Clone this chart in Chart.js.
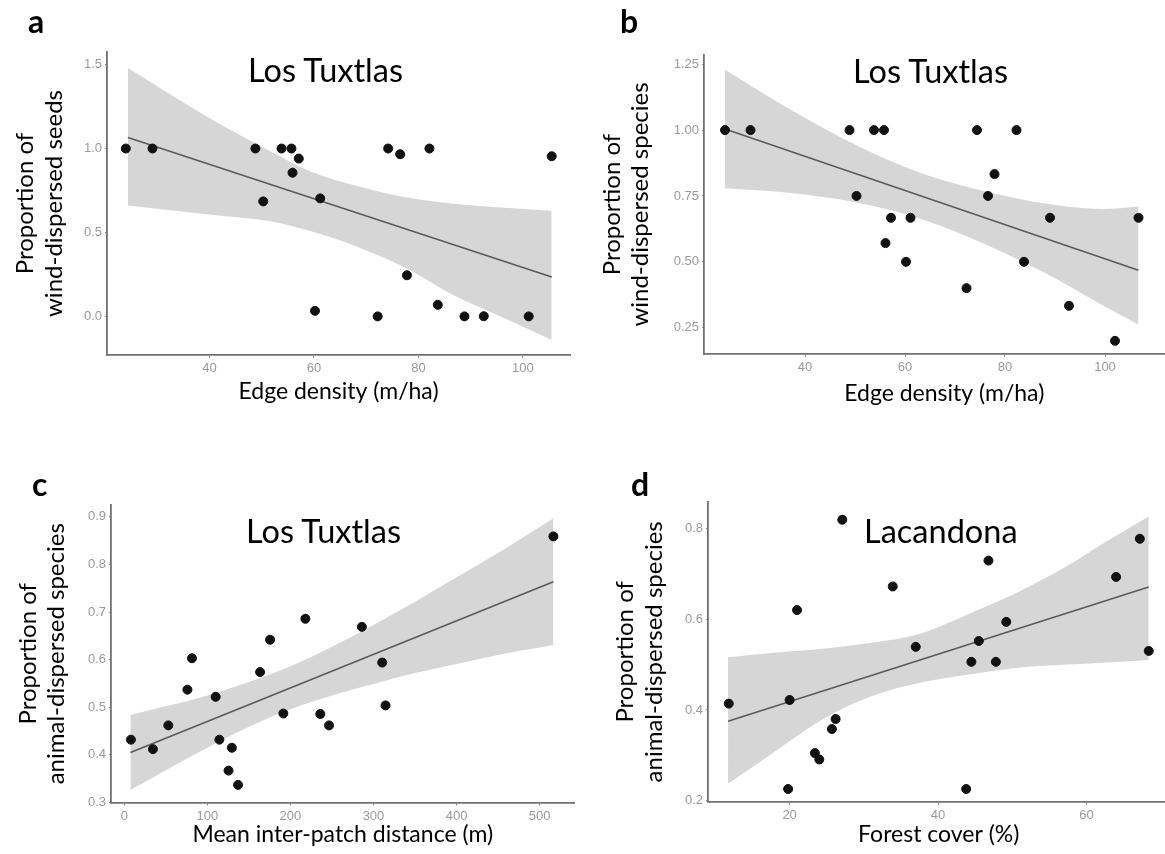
<!DOCTYPE html>
<html lang="en">
<head>
<meta charset="UTF-8" />
<title>Seed dispersal and landscape structure</title>
<script src="https://cdn.jsdelivr.net/npm/chart.js"></script>
<style>
  html, body { margin: 0; padding: 0; background: #fff; }
  body { position: relative; width: 1165px; height: 854px; overflow: hidden; font-family: Lato, "Open Sans", sans-serif; }
  canvas { position: absolute; }
  .letter { position: absolute; font-size: 32px; font-weight: bold; line-height: 1; color: #000; }
  .site { position: absolute; font-size: 32.5px; line-height: 1; color: #000; white-space: nowrap; }
</style>
</head>
<body>
<canvas id="chartA" width="580" height="420" style="left:0;top:0"></canvas>
<canvas id="chartB" width="610" height="420" style="left:580px;top:0"></canvas>
<canvas id="chartC" width="580" height="434" style="left:0;top:420px"></canvas>
<canvas id="chartD" width="595" height="434" style="left:580px;top:420px"></canvas>

<div class="letter" style="left:28px;top:5px">a</div>
<div class="letter" style="left:620px;top:5px">b</div>
<div class="letter" style="left:32px;top:468px">c</div>
<div class="letter" style="left:631px;top:468px">d</div>

<div class="site" style="left:248px;top:54px">Los Tuxtlas</div>
<div class="site" style="left:853px;top:55px">Los Tuxtlas</div>
<div class="site" style="left:246px;top:515px">Los Tuxtlas</div>
<div class="site" style="left:864px;top:515px">Lacandona</div>

<script>
  // a: wind-dispersed seeds vs edge density
  const edgeA = [24.0, 29.1, 48.8, 53.8, 55.7, 57.1, 55.9, 50.3, 61.2, 74.2, 76.5, 82.1, 105.5, 77.8, 60.2, 72.2, 83.7, 88.8, 92.5, 101.1];
  const windSeeds = [1, 1, 1, 1, 1, 0.94, 0.856, 0.685, 0.703, 1, 0.966, 1, 0.954, 0.245, 0.033, 0, 0.069, 0, 0.001, 0];
  const fitA_x = [24.4, 105.5];
  const fitA_y = [1.066, 0.234];
  const bandA_x = [24.4, 39, 51.9, 59.6, 67.9, 77.5, 87.1, 95, 105.5];
  const bandA_hi = [1.48, 1.2, 0.98, 0.86, 0.78, 0.71, 0.67, 0.65, 0.63];
  const bandA_lo = [0.66, 0.61, 0.565, 0.505, 0.42, 0.29, 0.12, 0.01, -0.14];

  // b: wind-dispersed species vs edge density
  const edgeB = [24.0, 29.1, 48.9, 53.8, 55.8, 74.4, 82.3, 77.9, 76.6, 50.3, 57.2, 61.1, 89.0, 106.7, 56.1, 60.2, 83.8, 72.3, 92.8, 102.0];
  const windSpecies = [1, 1, 1, 1, 1, 1, 1, 0.833, 0.75, 0.75, 0.667, 0.667, 0.667, 0.667, 0.571, 0.5, 0.5, 0.4, 0.333, 0.2];
  const fitB_x = [24.0, 106.7];
  const fitB_y = [1.004, 0.468];
  const bandB_x = [24.0, 36.7, 49.8, 59.6, 69.4, 82.5, 89.0, 99.5, 106.7];
  const bandB_hi = [1.229, 1.082, 0.947, 0.863, 0.8, 0.74, 0.718, 0.7, 0.71];
  const bandB_lo = [0.779, 0.762, 0.727, 0.683, 0.62, 0.51, 0.448, 0.335, 0.262];

  // c: animal-dispersed species vs inter-patch distance
  const distC = [8, 34.5, 53, 76, 81.5, 110, 114.5, 129.5, 125.5, 137, 163.5, 175.5, 191.5, 218, 236, 246.5, 286, 310.5, 314.5, 516.6];
  const animalC = [0.432, 0.412, 0.462, 0.537, 0.603, 0.522, 0.432, 0.415, 0.367, 0.337, 0.574, 0.642, 0.487, 0.686, 0.486, 0.462, 0.669, 0.594, 0.504, 0.859];
  const fitC_x = [7.4, 516.6];
  const fitC_y = [0.405, 0.764];
  const bandC_x = [7.4, 50, 100, 150, 200, 250, 300, 350, 400, 450, 516.6];
  const bandC_hi = [0.484, 0.502, 0.525, 0.553, 0.586, 0.627, 0.673, 0.722, 0.773, 0.824, 0.897];
  const bandC_lo = [0.326, 0.368, 0.415, 0.459, 0.496, 0.525, 0.549, 0.572, 0.591, 0.61, 0.631];

  // d: animal-dispersed species vs forest cover (Lacandona)
  const forestD = [11.8, 20.0, 19.8, 21.0, 23.4, 24.0, 25.7, 26.2, 27.1, 33.9, 37.0, 43.8, 44.5, 45.5, 46.8, 47.8, 49.2, 64.0, 67.2, 68.4];
  const animalD = [0.414, 0.422, 0.226, 0.62, 0.305, 0.291, 0.358, 0.38, 0.819, 0.672, 0.539, 0.226, 0.506, 0.552, 0.729, 0.506, 0.594, 0.693, 0.777, 0.53];
  const fitD_x = [11.7, 68.4];
  const fitD_y = [0.375, 0.671];
  const bandD_x = [11.7, 17.8, 24.4, 31.0, 37.6, 44.2, 50.8, 57.4, 62.2, 68.4];
  const bandD_hi = [0.516, 0.526, 0.535, 0.548, 0.568, 0.612, 0.66, 0.717, 0.766, 0.826];
  const bandD_lo = [0.238, 0.306, 0.379, 0.43, 0.46, 0.478, 0.493, 0.5, 0.504, 0.51];

  // tick values
  const xTicksEdge = [40, 60, 80, 100];
  const yTicksA = [0, 0.5, 1.0, 1.5];
  const yTicksB = [0.25, 0.5, 0.75, 1.0, 1.25];
  const xTicksC = [0, 100, 200, 300, 400, 500];
  const yTicksC = [0.3, 0.4, 0.5, 0.6, 0.7, 0.8, 0.9];
  const xTicksD = [20, 40, 60];
  const yTicksD = [0.2, 0.4, 0.6, 0.8];

  Chart.defaults.font.family = "Lato";

  const pts = (xs, ys) => xs.map((v, i) => ({ x: v, y: ys[i] }));
  const xTitleFont = { family: "Lato", size: 23, lineHeight: 1.18 };
  const yTitleFont = { family: "Lato", size: 24, lineHeight: 1.18 };
  const tickFont = { family: "Liberation Sans", size: 13 };

  function panel(id, o) {
    return new Chart(document.getElementById(id), {
      type: "scatter",
      data: {
        datasets: [
          {
            data: pts(o.x, o.y),
            backgroundColor: "#111",
            borderColor: "#111",
            pointRadius: 4.5,
            order: 0,
          },
          {
            type: "line",
            data: pts(o.fitX, o.fitY),
            borderColor: "#5a5a5a",
            borderWidth: 1.6,
            pointRadius: 0,
            order: 1,
          },
          {
            type: "line",
            data: pts(o.bandX, o.bandHi),
            borderWidth: 0,
            pointRadius: 0,
            cubicInterpolationMode: "monotone",
            backgroundColor: "rgb(214,214,214)",
            fill: "+1",
            order: 2,
          },
          {
            type: "line",
            data: pts(o.bandX, o.bandLo),
            borderWidth: 0,
            pointRadius: 0,
            cubicInterpolationMode: "monotone",
            fill: false,
            order: 3,
          },
        ],
      },
      options: {
        responsive: false,
        animation: false,
        events: [],
        layout: { padding: { left: 0, top: o.top, right: o.right, bottom: 0 } },
        plugins: { legend: { display: false }, tooltip: { enabled: false } },
        scales: {
          x: {
            type: "linear",
            min: o.xMin,
            max: o.xMax,
            afterBuildTicks: (s) => { s.ticks = o.xTicks.map((v) => ({ value: v })); },
            afterFit: (s) => { s.height = o.xH; },
            grid: { drawOnChartArea: false, drawTicks: true, tickLength: 3, color: "#8a8a8a" },
            border: { display: true, color: "#707070", width: 1.8 },
            ticks: { color: "#9a9a9a", font: tickFont, padding: 3, maxRotation: 0, callback: (v) => String(v) },
            title: { display: true, text: o.xTitle, color: "#000", font: xTitleFont, padding: { top: 0, bottom: o.xTitlePad } },
          },
          y: {
            type: "linear",
            min: o.yMin,
            max: o.yMax,
            afterBuildTicks: (s) => { s.ticks = o.yTicks.map((v) => ({ value: v })); },
            afterFit: (s) => { s.width = o.yW; },
            grid: { drawOnChartArea: false, drawTicks: true, tickLength: 2, color: "#8a8a8a" },
            border: { display: true, color: "#707070", width: 1.8 },
            ticks: { color: "#9a9a9a", font: tickFont, padding: 3, callback: (v) => v.toFixed(o.yDec) },
            title: { display: true, text: o.yTitle, color: "#000", font: yTitleFont, padding: { top: o.yTitlePad, bottom: 0 } },
          },
        },
      },
    });
  }

  panel("chartA", {
    x: edgeA, y: windSeeds, fitX: fitA_x, fitY: fitA_y,
    bandX: bandA_x, bandHi: bandA_hi, bandLo: bandA_lo,
    xMin: 20.4, xMax: 109.0, yMin: -0.23, yMax: 1.575,
    xTicks: xTicksEdge, yTicks: yTicksA, yDec: 1,
    top: 52, right: 10, xH: 65, yW: 107,
    xTitle: "Edge density (m/ha)", xTitlePad: 14.9,
    yTitle: ["Proportion of", "wind-dispersed seeds"], yTitlePad: 11.3,
  });

  panel("chartB", {
    x: edgeB, y: windSpecies, fitX: fitB_x, fitY: fitB_y,
    bandX: bandB_x, bandHi: bandB_hi, bandLo: bandB_lo,
    xMin: 19.8, xMax: 115.9, yMin: 0.15, yMax: 1.285,
    xTicks: xTicksEdge, yTicks: yTicksB, yDec: 2,
    top: 55, right: 0, xH: 66, yW: 124,
    xTitle: "Edge density (m/ha)", xTitlePad: 12.9,
    yTitle: ["Proportion of", "wind-dispersed species"], yTitlePad: 17.8,
  });

  panel("chartC", {
    x: distC, y: animalC, fitX: fitC_x, fitY: fitC_y,
    bandX: bandC_x, bandHi: bandC_hi, bandLo: bandC_lo,
    xMin: -16, xMax: 542, yMin: 0.3, yMax: 0.925,
    xTicks: xTicksC, yTicks: yTicksC, yDec: 1,
    top: 85, right: 2, xH: 51.5, yW: 111,
    xTitle: "Mean inter-patch distance (m)", xTitlePad: 5.4,
    yTitle: ["Proportion of", "animal-dispersed species"], yTitlePad: 13.8,
  });

  panel("chartD", {
    x: forestD, y: animalD, fitX: fitD_x, fitY: fitD_y,
    bandX: bandD_x, bandHi: bandD_hi, bandLo: bandD_lo,
    xMin: 9, xMax: 71.2, yMin: 0.198, yMax: 0.858,
    xTicks: xTicksD, yTicks: yTicksD, yDec: 1,
    top: 82, right: 0, xH: 52.3, yW: 128,
    xTitle: "Forest cover (%)", xTitlePad: 5.4,
    yTitle: ["Proportion of", "animal-dispersed species"], yTitlePad: 31.3,
  });
</script>
</body>
</html>
